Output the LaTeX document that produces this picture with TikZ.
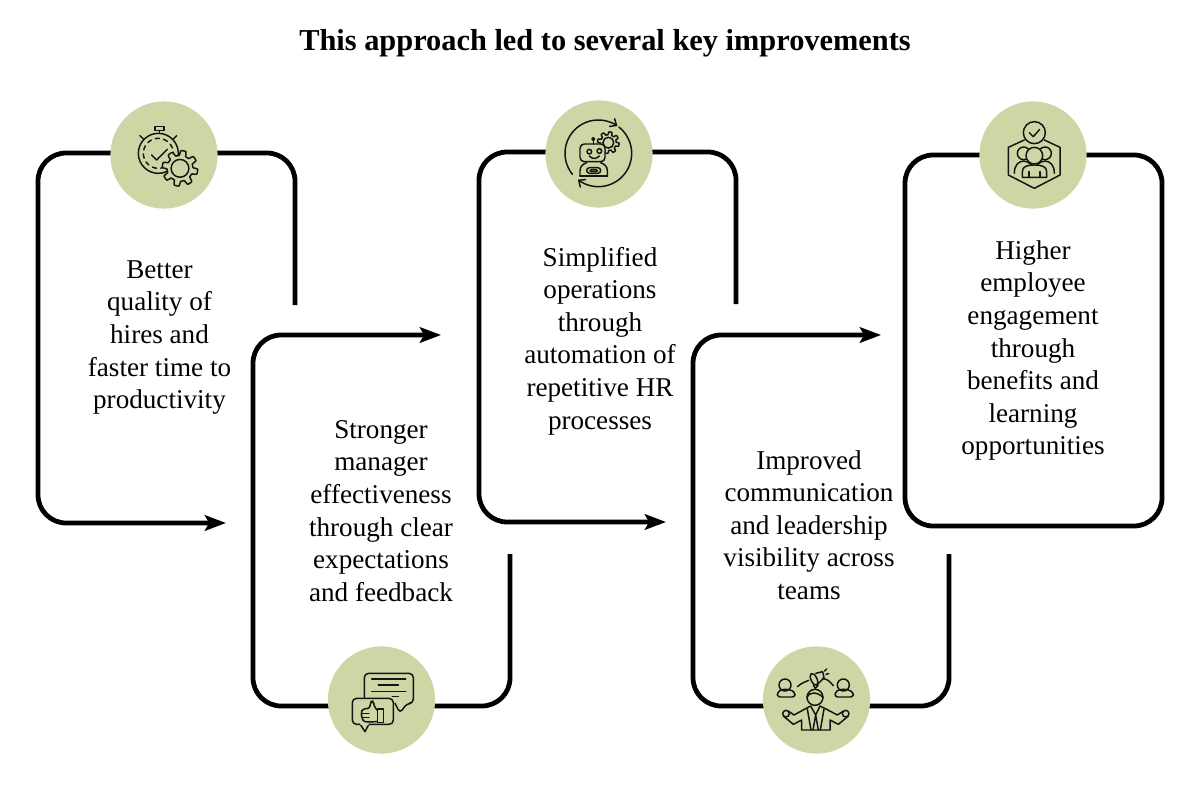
\documentclass[tikz,border=0pt]{standalone}
\usepackage{fontspec}
\setmainfont{Liberation Serif}
\usetikzlibrary{arrows.meta, positioning, shapes.geometric}
\definecolor{sage}{RGB}{206,214,165}
\definecolor{inkline}{RGB}{20,20,20}
\tikzset{
    % Title
    titletext/.style={font=\fontsize{21.6}{25}\selectfont\bfseries, align=center},
    % Step labels
    steptext/.style={font=\fontsize{19.3}{23.2}\selectfont, align=center, inner sep=0pt},
    % Frames
    framepath/.style={line width=3.4pt, rounded corners=20pt, black},
    framearrow/.style={framepath, -{Stealth[length=15pt, width=11pt, inset=3pt]}},
    % Icons
    iconcircle/.style={circle, fill=sage, minimum size=2.68cm, inner sep=0pt},
    iconzoom/.style={x=0.00833cm, y=-0.00833cm, line width=1.05pt, inkline, line join=round, line cap=round},
}
\newcommand{\gearshape}[3]{%
  \begin{scope}[shift={(#1,#2)}]
    \draw[fill=sage] plot[domain=0:360, samples=145] (\x:{#3*(1+0.16*min(1,max(-1,2.5*sin(8*\x))))}) -- cycle;
    \draw (0,0) circle[radius=#3*0.58];
  \end{scope}}
\begin{document}
\begin{tikzpicture}[x=0.025cm, y=-0.025cm]
\useasboundingbox (0,0) rectangle (1200,800);

\node[titletext] (title) at (605,43) {This approach led to several key improvements};

% frame corners
\coordinate (hirestart) at (295,305);
\coordinate (hirecorner) at (38,153);
\coordinate (hireend) at (226,523);
\coordinate (managerstart) at (510,554);
\coordinate (managercorner) at (253,706);
\coordinate (managerend) at (441,335);
\coordinate (opsstart) at (736,304);
\coordinate (opscorner) at (479,152);
\coordinate (opsend) at (666,522);
\coordinate (commstart) at (949,554);
\coordinate (commcorner) at (693,706);
\coordinate (commend) at (881,335);
\coordinate (engagetl) at (905,155);
\coordinate (engagebr) at (1162,526);

\draw[framearrow] (hirestart) |- (hirecorner) |- (hireend);
\draw[framearrow] (managerstart) |- (managercorner) |- (managerend);
\draw[framearrow] (opsstart) |- (opscorner) |- (opsend);
\draw[framearrow] (commstart) |- (commcorner) |- (commend);
\draw[framepath] (engagetl) rectangle (engagebr);

\node[iconcircle] (hireicon)    at (164,155) {};
\node[iconcircle] (managericon) at (381.5,700) {};
\node[iconcircle] (opsicon)     at (599,154) {};
\node[iconcircle] (commicon)    at (816.5,700) {};
\node[iconcircle] (engageicon)  at (1033,155) {};

\node[steptext] (hiretext)    at (159.5,337.5) {Better\\quality of\\hires and\\faster time to\\productivity};
\node[steptext] (managertext) at (381,511) {Stronger\\manager\\effectiveness\\through clear\\expectations\\and feedback};
\node[steptext] (opstext)     at (600,341) {Simplified\\operations\\through\\automation of\\repetitive HR\\processes};
\node[steptext] (commtext)    at (809,525) {Improved\\communication\\and leadership\\visibility across\\teams};
\node[steptext] (engagetext)  at (1033,350.5) {Higher\\employee\\engagement\\through\\benefits and\\learning\\opportunities};

% stopwatch
\begin{scope}[shift={(90,90)}, iconzoom]
\draw (205,190) circle[radius=60];
\draw[dashed] (205,190) circle[radius=45];
\draw (185,195) -- (200,210) -- (232,178);
\draw (195,110) rectangle (222,122);
\draw (208,122) -- (208,130);
\draw (250,147) -- (260,137);
\draw (160,147) -- (150,137);
\gearshape{270}{235}{46}
\end{scope}

% robot
\begin{scope}[shift={(530,90)}, iconzoom]
\begin{scope}[shift={(205,190)}]
\draw[-{Straight Barb[length=4pt, width=7pt]}] plot[domain=141:305, samples=40] (\x:100);
\draw[-{Straight Barb[length=4pt, width=7pt]}] plot[domain=-52:128, samples=40] (\x:100);
\end{scope}
\gearshape{235}{158}{28}
\draw[fill=sage, rounded corners=3pt] (150,162) rectangle (225,215);
\draw (178,185) circle[radius=7];
\draw (208,183) circle[radius=7];
\draw (178,198) .. controls (188,208) and (198,208) .. (208,198);
\draw (190,162) -- (190,152);
\draw (190,147) circle[radius=4];
\draw (150,258) -- (150,242) .. controls (150,228) and (160,222) .. (170,218);
\draw (232,258) -- (232,242) .. controls (232,228) and (222,222) .. (212,218);
\draw (150,258) -- (232,258);
\draw[rounded corners=2pt] (170,233) rectangle (212,250);
\draw[rounded corners=1pt] (180,239) rectangle (202,245);
\end{scope}

% hexagon and team
\begin{scope}[shift={(965,90)}, iconzoom]
\draw (178,150) -- (130,172) -- (130,255) -- (208,295) -- (285,255) -- (285,172) -- (238,150);
\draw[fill=sage] (208,128) circle[radius=33];
\draw (193,128) -- (205,140) -- (224,118);
\draw (148,250) .. controls (148,225) and (160,215) .. (175,213) .. controls (195,215) and (205,225) .. (205,250);
\draw (268,250) .. controls (268,225) and (256,215) .. (241,213) .. controls (221,215) and (211,225) .. (211,250);
\draw[fill=sage] (176,190) circle[radius=19];
\draw[fill=sage] (240,190) circle[radius=19];
\draw[fill=sage] (172,262) -- (172,245) .. controls (172,230) and (185,225) .. (208,225) .. controls (231,225) and (245,230) .. (245,245) -- (245,262) -- cycle;
\draw[fill=sage] (208,197) circle[radius=25];
\draw (192,262) -- (192,245) (225,262) -- (225,245);
\end{scope}

% speech bubbles
\begin{scope}[shift={(315,635)}, iconzoom]
\draw[rounded corners=3pt] (230,205) -- (148,205) -- (148,115) -- (295,115) -- (295,205) -- (275,205) -- (255,235) -- (240,205);
\draw (170,132) -- (272,132);
\draw (190,150) -- (250,150);
\draw (170,170) -- (272,170);
\draw (232,185) -- (250,185);
\draw[fill=sage, rounded corners=3pt] (112,190) rectangle (235,268);
\draw[fill=sage] (135,267) -- (150,290) -- (162,267);
\draw[sage, line width=1.6pt] (138,268) -- (159,268);
\draw (187,222) rectangle (205,262);
\draw[rounded corners=2pt] (187,226) -- (176,212) -- (176,198) -- (166,200) -- (165,220) -- (142,222) -- (138,235) -- (141,248) -- (146,261) -- (187,260);
\draw (142,235) -- (162,235) (142,248) -- (162,248);
\end{scope}

% leader and team
\begin{scope}[shift={(750,635)}, iconzoom]
\draw (105,150) circle[radius=18];
\draw[rounded corners=2pt] (82,186) -- (82,172) -- (95,163) -- (118,163) -- (135,172) -- (135,186) -- cycle;
\draw (280,150) circle[radius=18];
\draw[rounded corners=2pt] (255,186) -- (255,172) -- (268,163) -- (292,163) -- (310,172) -- (310,186) -- cycle;
\draw (142,155) .. controls (155,145) .. (176,136);
\draw (218,130) .. controls (235,135) .. (250,152);
\draw[rotate around={25:(192,133)}] (192,133) ellipse [x radius=9, y radius=19];
\draw (197,115) -- (218,110) -- (222,128) -- (200,151);
\draw (190,150) -- (196,160) -- (204,152);
\draw (224,108) -- (230,102) (228,118) -- (236,116);
\draw (195,187) circle[radius=24];
\draw (171,187) .. controls (175,172) and (200,168) .. (219,187);
\draw (108,236) circle[radius=10];
\draw (287,236) circle[radius=10];
\draw (116,229) -- (132,240) -- (165,222) -- (182,213) -- (197,240) -- (210,213) -- (228,222) -- (262,240) -- (279,229);
\draw (100,243) -- (130,268) -- (155,255) -- (155,285) -- (240,285) -- (240,255) -- (265,268) -- (295,243);
\draw (197,240) -- (189,285) (197,240) -- (205,285);
\draw (172,222) -- (183,285) (222,222) -- (211,285);
\end{scope}
\end{tikzpicture}
\end{document}
